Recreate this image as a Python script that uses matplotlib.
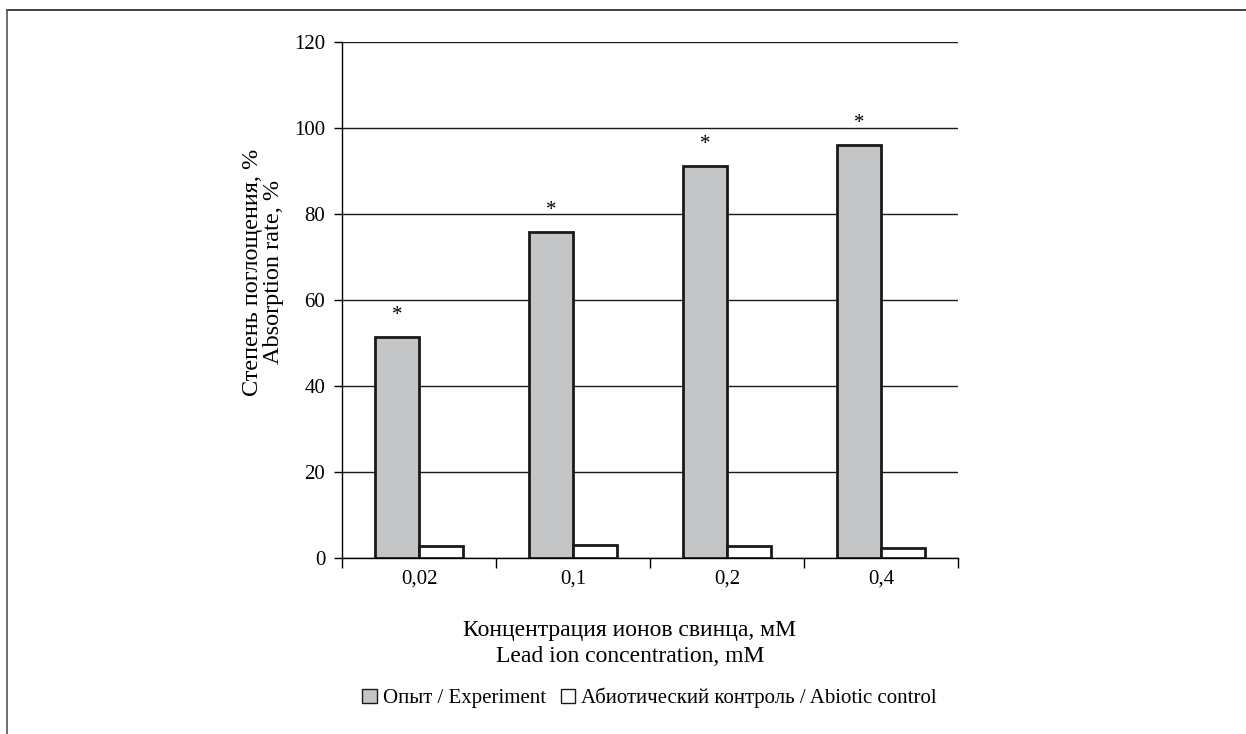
import matplotlib.pyplot as plt
import numpy as np
from matplotlib.lines import Line2D
from matplotlib.patches import Patch

plt.rcParams["font.family"] = ["Liberation Serif", "DejaVu Serif"]

categories = ["0,02", "0,1", "0,2", "0,4"]
experiment = [51.5, 75.7, 91.1, 96.1]
control = [2.7, 3.0, 2.7, 2.4]
star_offset = 5

fig = plt.figure(figsize=(12.46, 7.34), dpi=100)
ax = fig.add_axes([0.2745, 0.2398, 0.4944, 0.703])

x = np.arange(len(categories))
w = 0.283
ax.bar(x - w / 2, experiment, w, color="#c4c5c7", edgecolor="#1a1a1a", linewidth=2, zorder=3)
ax.bar(x + w / 2, control, w, color="white", edgecolor="#1a1a1a", linewidth=2, zorder=3)
for xi, v in zip(x, experiment):
    ax.text(xi - w / 2, v + star_offset, "*", ha="center", va="center", fontsize=15)

ax.set_xlim(-0.5, len(categories) - 0.5)
ax.set_ylim(0, 120)
ax.set_yticks(np.arange(0, 121, 20))
ax.yaxis.grid(True, color="#1a1a1a", linewidth=1)
ax.set_axisbelow(True)
ax.set_xticks(x)
ax.set_xticklabels(categories)
ax.set_xticks(np.arange(-0.5, len(categories)), minor=True)
ax.tick_params(axis="x", which="major", length=0, pad=8, labelsize=15)
ax.tick_params(axis="x", which="minor", length=7, direction="out", width=1)
ax.tick_params(axis="y", length=6, width=1, labelsize=15, pad=6)
for s in ["top", "right"]:
    ax.spines[s].set_visible(False)
ax.spines["left"].set_linewidth(1)
ax.spines["bottom"].set_linewidth(1)

ax.set_ylabel("Степень поглощения, %\nAbsorption rate, %", fontsize=17.5,
              linespacing=1.0)
ax.yaxis.set_label_coords(-0.094, 0.554)
fig.text(0.5056, 0.1235, "Концентрация ионов свинца, мМ\nLead ion concentration, mM",
         ha="center", va="center", fontsize=17, linespacing=1.35)

handles = [Patch(facecolor="#c4c5c7", edgecolor="#1a1a1a", linewidth=1),
           Patch(facecolor="white", edgecolor="#1a1a1a", linewidth=1)]
fig.legend(handles, ["Опыт / Experiment", "Абиотический контроль / Abiotic control"],
           loc="center", bbox_to_anchor=(0.5213, 0.049), ncol=2, frameon=False,
           fontsize=15, handlelength=0.7, handleheight=0.7, handletextpad=0.3,
           columnspacing=0.7)

fig.add_artist(Line2D([0.0056, 1.0], [0.9864, 0.9864], transform=fig.transFigure,
                      color="#222222", linewidth=1.2))
fig.add_artist(Line2D([0.0056, 0.0056], [0.0, 0.9864], transform=fig.transFigure,
                      color="#555555", linewidth=1.2))

fig.savefig("out.png", dpi=100)
